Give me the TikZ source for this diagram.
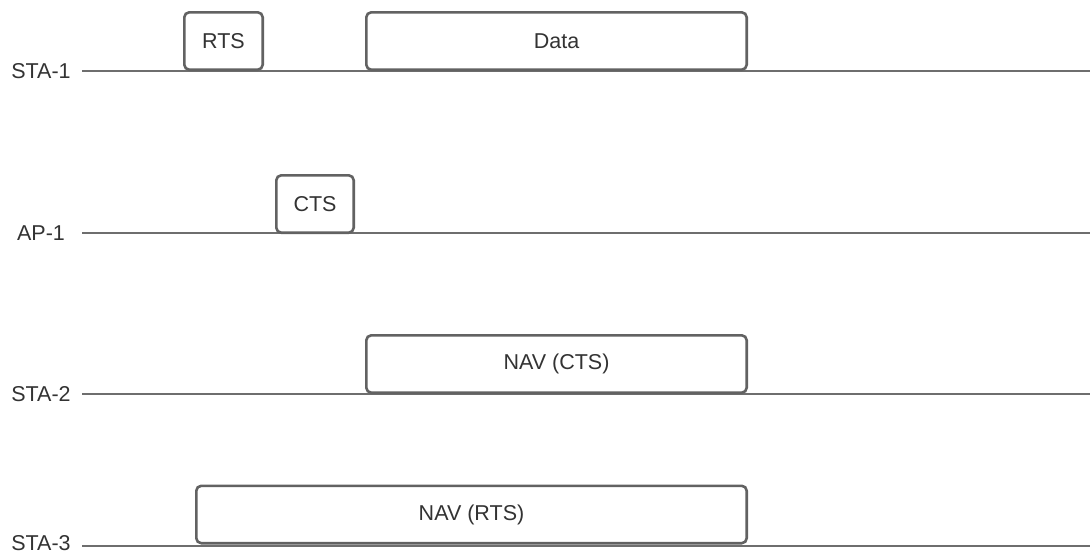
\documentclass[tikz,border=0pt]{standalone}
\usepackage{fontspec}
\setmainfont{Liberation Sans}
\definecolor{framegray}{HTML}{626262}
\definecolor{linegray}{HTML}{6E6E6E}
\definecolor{textgray}{HTML}{333333}
\begin{document}
\begin{tikzpicture}[x=1pt,y=-1pt,
  label/.style={text=textgray, font=\fontsize{21.5}{25}\selectfont, inner sep=0pt},
  frame/.style={draw=framegray, line width=2.6pt, rounded corners=5pt, fill=white,
    inner sep=0pt, minimum height=57.4pt, text=textgray,
    font=\fontsize{21.5}{25}\selectfont},
  timeline/.style={draw=linegray, line width=1.8pt}]
\useasboundingbox (0,0) rectangle (1090,554);

% station labels
\node[label] (sta1) at (41,71) {STA-1};
\node[label] (ap1)  at (41,233) {AP-1};
\node[label] (sta2) at (41,394) {STA-2};
\node[label] (sta3) at (41,543) {STA-3};

% time lines
\coordinate (s1a) at (82,71);   \coordinate (s1b) at (1090,71);
\coordinate (apa) at (82,233);  \coordinate (apb) at (1090,233);
\coordinate (s2a) at (82,394);  \coordinate (s2b) at (1090,394);
\coordinate (s3a) at (82,546);  \coordinate (s3b) at (1090,546);
\draw[timeline] (s1a) -- (s1b);
\draw[timeline] (apa) -- (apb);
\draw[timeline] (s2a) -- (s2b);
\draw[timeline] (s3a) -- (s3b);

% frames on the air
\node[frame, minimum width=78.4pt]  (rts)  at (223.5,41)  {RTS};
\node[frame, minimum width=380.4pt] (data) at (556.5,41)  {Data};
\node[frame, minimum width=77.4pt]  (cts)  at (315,204)   {CTS};
\node[frame, minimum width=380.4pt] (navc) at (556.5,364) {NAV (CTS)};
\node[frame, minimum width=550.4pt] (navr) at (471.5,514.5) {NAV (RTS)};
\end{tikzpicture}
\end{document}
